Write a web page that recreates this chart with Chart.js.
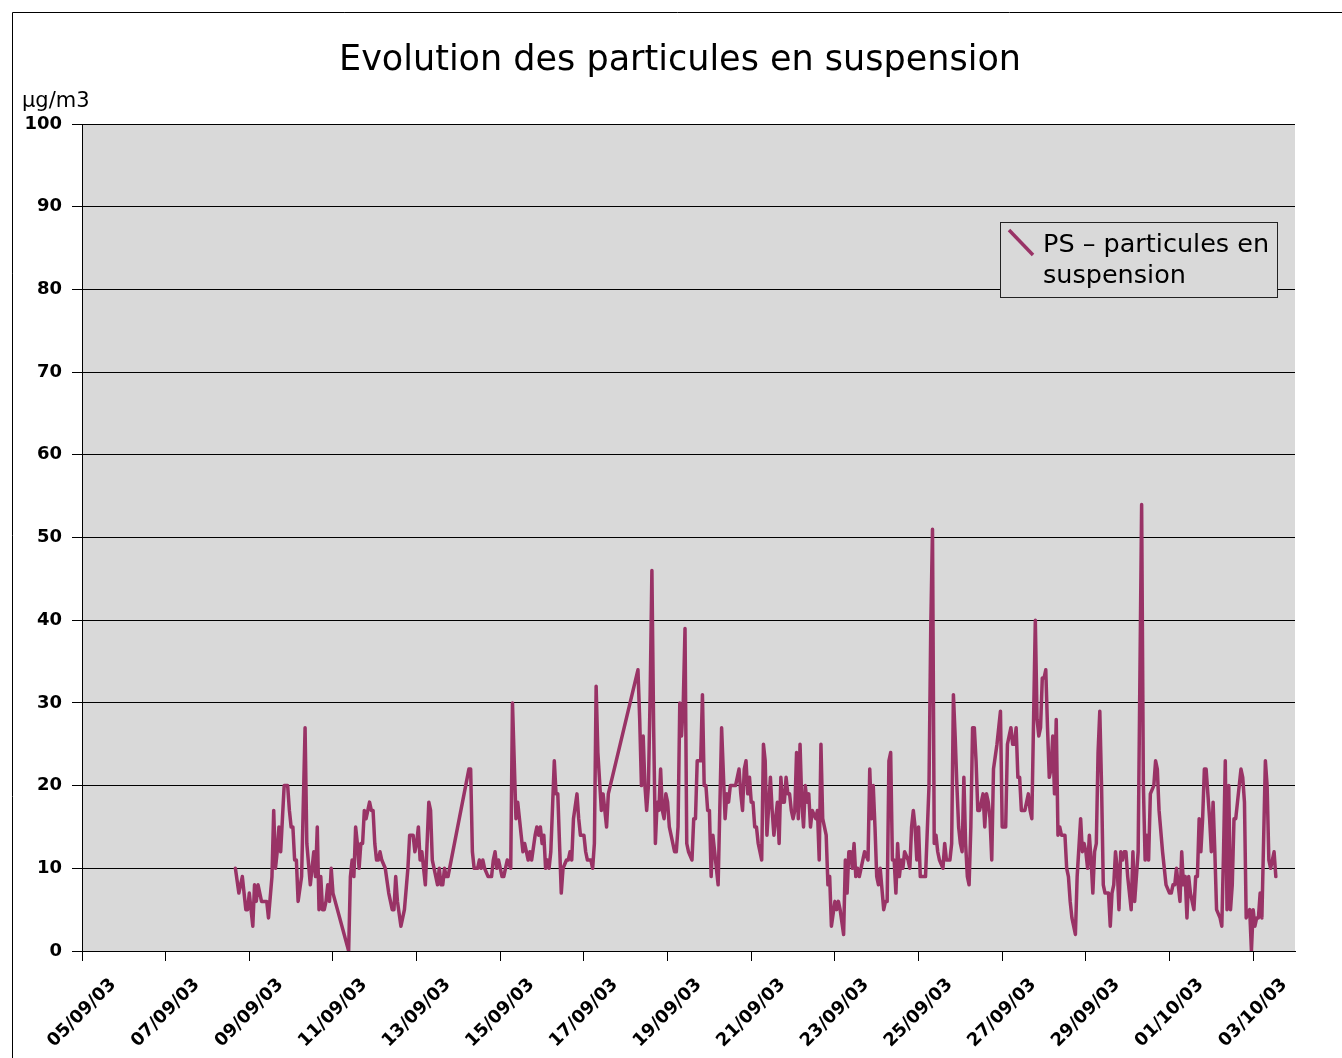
<!DOCTYPE html>
<html>
<head>
<meta charset="utf-8">
<script src="https://cdn.jsdelivr.net/npm/chart.js@4.4.0/dist/chart.umd.min.js"></script>
<style>
  html, body { margin: 0; padding: 0; background: #fff; }
  #chart { display: block; }
</style>
</head>
<body>
<canvas id="chart" width="1342" height="1058"></canvas>
<script>
// hours since 05/09/03 00:00
const hours = [
  88, 90, 92, 94, 95, 96, 98, 99, 100, 101, 103, 104, 106, 107, 109, 110, 111, 112, 113, 114,
  115, 116, 118, 119, 120, 121, 122, 123, 124, 126, 128, 129, 131, 132, 133, 134, 135, 136, 137, 138,
  139, 140, 141, 142, 143, 144, 153, 154, 155, 156, 157, 158, 159, 160, 161, 162, 163, 165, 166, 167,
  168, 169, 170, 171, 172, 174, 176, 178, 179, 180, 181, 183, 185, 187, 188, 190, 191, 192, 193, 194,
  195, 196, 197, 199, 200, 201, 202, 204, 205, 206, 207, 208, 209, 210, 222, 223, 224, 225, 227, 228,
  229, 230, 231, 233, 235, 236, 237, 238, 239, 241, 242, 243, 244, 246, 247, 249, 250, 251, 252, 253,
  254, 256, 257, 258, 260, 261, 262, 263, 264, 265, 266, 267, 268, 269, 271, 272, 273, 274, 275, 276,
  278, 279, 280, 281, 282, 284, 285, 286, 288, 289, 290, 292, 293, 294, 295, 296, 298, 299, 300, 301,
  302, 319, 320, 321, 322, 323, 324, 325, 326, 327, 328, 329, 330, 331, 332, 333, 334, 335, 336, 337,
  338, 340, 341, 342, 343, 344, 345, 346, 347, 348, 350, 351, 352, 353, 355, 356, 357, 358, 359, 360,
  361, 362, 363, 365, 367, 369, 370, 371, 372, 374, 375, 377, 378, 379, 380, 381, 382, 383, 384, 385,
  386, 387, 388, 390, 391, 392, 393, 395, 396, 397, 399, 400, 401, 402, 403, 404, 405, 406, 407, 408,
  409, 410, 411, 412, 413, 414, 415, 416, 417, 418, 419, 421, 422, 423, 424, 425, 427, 428, 429, 430,
  432, 433, 434, 435, 437, 438, 439, 440, 441, 442, 443, 444, 445, 446, 448, 449, 451, 452, 453, 454,
  455, 456, 457, 458, 460, 461, 462, 463, 464, 465, 466, 467, 468, 469, 470, 471, 472, 474, 475, 476,
  477, 478, 479, 480, 481, 482, 484, 486, 487, 488, 489, 490, 491, 492, 494, 495, 496, 498, 499, 500,
  501, 502, 503, 504, 505, 506, 507, 508, 509, 510, 511, 512, 513, 514, 515, 517, 518, 519, 520, 521,
  522, 523, 525, 526, 527, 528, 530, 531, 532, 533, 534, 535, 536, 537, 538, 539, 541, 542, 543, 544,
  545, 546, 547, 548, 549, 550, 551, 552, 553, 554, 555, 556, 557, 558, 559, 560, 561, 562, 564, 565,
  566, 567, 568, 570, 571, 573, 574, 575, 576, 577, 578, 579, 580, 581, 582, 583, 584, 585, 586, 587,
  589, 590, 591, 592, 593, 594, 595, 596, 597, 598, 599, 600, 601, 602, 603, 604, 605, 606, 608, 609,
  610, 611, 612, 613, 615, 616, 617, 618, 620, 621, 622, 624, 625, 626, 627, 628, 630, 631, 632, 633,
  634, 635, 636, 638, 639, 640, 641, 642, 643, 644, 645, 647, 648, 649, 650, 651, 653, 654, 655, 656,
  657, 658, 659, 660, 661, 662, 663, 664, 665, 666, 667, 668, 670, 671, 672, 673, 674, 675, 676, 677,
  679, 680, 681, 682, 684, 685
];

// PS – particules en suspension, µg/m3
const ps = [
  10, 7, 9, 5, 5, 7, 3, 8, 6, 8, 6, 6, 6, 4, 9, 17, 10, 12, 15, 12,
  16, 20, 20, 17, 15, 15, 11, 11, 6, 9, 27, 13, 8, 10, 12, 9, 15, 5, 9, 5,
  5, 6, 8, 6, 10, 7, 0, 9, 11, 9, 15, 13, 10, 13, 13, 17, 16, 18, 17, 17,
  13, 11, 11, 12, 11, 10, 7, 5, 5, 9, 6, 3, 5, 10, 14, 14, 12, 13, 15, 11,
  12, 10, 8, 18, 17, 11, 10, 8, 10, 8, 8, 10, 9, 9, 22, 22, 12, 10, 10, 11,
  10, 11, 10, 9, 9, 11, 12, 10, 11, 9, 9, 10, 11, 10, 30, 16, 18, 16, 14, 12,
  13, 11, 12, 11, 14, 15, 14, 15, 13, 14, 10, 11, 10, 12, 23, 19, 19, 13, 7, 10,
  11, 11, 12, 11, 16, 19, 16, 14, 14, 12, 11, 11, 10, 13, 32, 24, 17, 19, 17, 15,
  19, 34, 28, 20, 26, 20, 17, 20, 31, 46, 27, 13, 18, 17, 22, 17, 16, 19, 18, 15,
  14, 12, 12, 15, 30, 26, 30, 39, 13, 12, 11, 16, 16, 23, 23, 31, 20, 20, 17, 17,
  9, 14, 12, 8, 27, 16, 19, 18, 20, 20, 20, 22, 19, 17, 22, 23, 19, 21, 18, 18,
  15, 15, 13, 11, 25, 23, 14, 21, 17, 14, 18, 13, 21, 18, 18, 21, 19, 19, 17, 16,
  17, 24, 16, 25, 18, 15, 20, 18, 19, 15, 17, 16, 17, 11, 25, 16, 14, 8, 9, 3,
  6, 5, 6, 5, 2, 11, 7, 12, 12, 10, 13, 9, 10, 9, 11, 12, 11, 22, 16, 20,
  15, 9, 8, 10, 5, 6, 6, 23, 24, 11, 11, 7, 13, 9, 11, 10, 12, 11, 10, 15,
  17, 15, 11, 15, 9, 9, 9, 20, 39, 51, 13, 14, 12, 11, 10, 13, 11, 11, 13, 31,
  26, 20, 15, 13, 12, 21, 13, 9, 8, 15, 27, 27, 23, 17, 17, 19, 15, 19, 18, 16,
  11, 22, 25, 27, 29, 15, 15, 25, 26, 27, 25, 25, 27, 21, 21, 17, 17, 18, 19, 17,
  16, 28, 40, 28, 26, 27, 33, 33, 34, 27, 21, 22, 26, 19, 28, 14, 15, 14, 14, 10,
  9, 6, 4, 2, 9, 16, 12, 13, 12, 10, 14, 11, 7, 12, 13, 24, 29, 20, 8, 7,
  7, 3, 7, 8, 12, 10, 5, 12, 11, 12, 12, 9, 7, 5, 12, 6, 9, 12, 54, 20,
  11, 14, 11, 19, 20, 23, 22, 17, 12, 10, 8, 7, 7, 8, 8, 10, 6, 12, 8, 9,
  4, 9, 7, 5, 9, 9, 16, 12, 16, 22, 22, 16, 12, 18, 12, 5, 4, 3, 12, 23,
  5, 20, 5, 8, 16, 16, 18, 20, 22, 21, 18, 4, 5, 0, 5, 3, 4, 4, 7, 4,
  23, 20, 11, 10, 12, 9
];

const xTickLabels = ['05/09/03', '07/09/03', '09/09/03', '11/09/03', '13/09/03', '15/09/03', '17/09/03',
  '19/09/03', '21/09/03', '23/09/03', '25/09/03', '27/09/03', '29/09/03', '01/10/03', '03/10/03'];
const titleText = 'Evolution des particules en suspension';
const unitLabel = 'µg/m3';
const legendLines = ['PS – particules en', 'suspension'];

const lineColor = '#993366';
const plotBg = '#d9d9d9';

Chart.defaults.font.family = '"DejaVu Sans"';
Chart.defaults.color = '#000';

const decor = {
  id: 'decor',
  beforeDraw(chart) {
    const ctx = chart.ctx, a = chart.chartArea;
    ctx.save();
    ctx.fillStyle = '#fff';
    ctx.fillRect(0, 0, chart.width, chart.height);
    // outer frame
    ctx.strokeStyle = '#000';
    ctx.lineWidth = 1;
    ctx.beginPath();
    ctx.moveTo(12.5, chart.height);
    ctx.lineTo(12.5, 12.5);
    ctx.lineTo(chart.width, 12.5);
    ctx.stroke();
    // plot area
    ctx.fillStyle = plotBg;
    ctx.fillRect(a.left, a.top, a.right - a.left, a.bottom - a.top);
    ctx.restore();
  },
  afterDraw(chart) {
    const ctx = chart.ctx, a = chart.chartArea, xs = chart.scales.x;
    ctx.save();
    ctx.fillStyle = '#000';

    // title, centred on the frame
    ctx.font = '35px "DejaVu Sans"';
    ctx.textAlign = 'center';
    ctx.textBaseline = 'alphabetic';
    ctx.fillText(titleText, 680, 70);

    ctx.font = '21px "DejaVu Sans"';
    ctx.textAlign = 'left';
    ctx.fillText(unitLabel, 22, 107);

    // rotated date labels, centred on each tick
    ctx.font = 'bold 18px "DejaVu Sans"';
    ctx.textAlign = 'center';
    ctx.textBaseline = 'middle';
    xs.ticks.forEach(t => {
      const label = xTickLabels[Math.round(t.value / 48)];
      if (!label) return;
      ctx.save();
      ctx.translate(xs.getPixelForValue(t.value), a.bottom + 62);
      ctx.rotate(-Math.PI / 4);
      ctx.fillText(label, 0, 0);
      ctx.restore();
    });

    // legend box
    const lx = a.right - 295, ly = a.top + 98;
    ctx.fillStyle = plotBg;
    ctx.fillRect(lx, ly, 277, 75);
    ctx.strokeStyle = '#222';
    ctx.lineWidth = 1;
    ctx.strokeRect(lx + 0.5, ly + 0.5, 277, 75);
    ctx.strokeStyle = lineColor;
    ctx.lineWidth = 3.5;
    ctx.beginPath();
    ctx.moveTo(lx + 9, ly + 8);
    ctx.lineTo(lx + 33, ly + 33);
    ctx.stroke();
    ctx.fillStyle = '#000';
    ctx.font = '25.5px "DejaVu Sans"';
    ctx.textAlign = 'left';
    ctx.textBaseline = 'alphabetic';
    ctx.fillText(legendLines[0], lx + 43, ly + 30);
    ctx.fillText(legendLines[1], lx + 43, ly + 61);
    ctx.restore();
  }
};

new Chart(document.getElementById('chart').getContext('2d'), {
  type: 'line',
  data: {
    datasets: [{
      label: legendLines.join(' '),
      data: hours.map((h, i) => ({ x: h, y: ps[i] })),
      borderColor: lineColor,
      borderWidth: 3.5,
      pointRadius: 0,
      tension: 0,
      fill: false,
      borderJoinStyle: 'round',
      borderCapStyle: 'round'
    }]
  },
  options: {
    responsive: false,
    animation: false,
    devicePixelRatio: 1,
    layout: { padding: { left: 0, right: 47, top: 124, bottom: 0 } },
    plugins: {
      legend: { display: false },
      tooltip: { enabled: false },
      title: { display: false }
    },
    scales: {
      x: {
        type: 'linear',
        min: 0,
        max: 696,
        ticks: { display: false, stepSize: 48, includeBounds: false },
        grid: { drawOnChartArea: false, drawTicks: true, tickLength: 10, color: '#000', tickColor: '#000' },
        border: { color: '#000', width: 1 },
        afterFit(s) { s.height = 107; }
      },
      y: {
        min: 0,
        max: 100,
        ticks: { stepSize: 10, color: '#000', padding: 10, font: { size: 18, weight: 'bold' } },
        grid: { color: '#000', tickColor: '#000', tickLength: 10, lineWidth: 1 },
        border: { color: '#000', width: 1 },
        afterFit(s) { s.width = 82; }
      }
    }
  },
  plugins: [decor]
});
</script>
</body>
</html>
